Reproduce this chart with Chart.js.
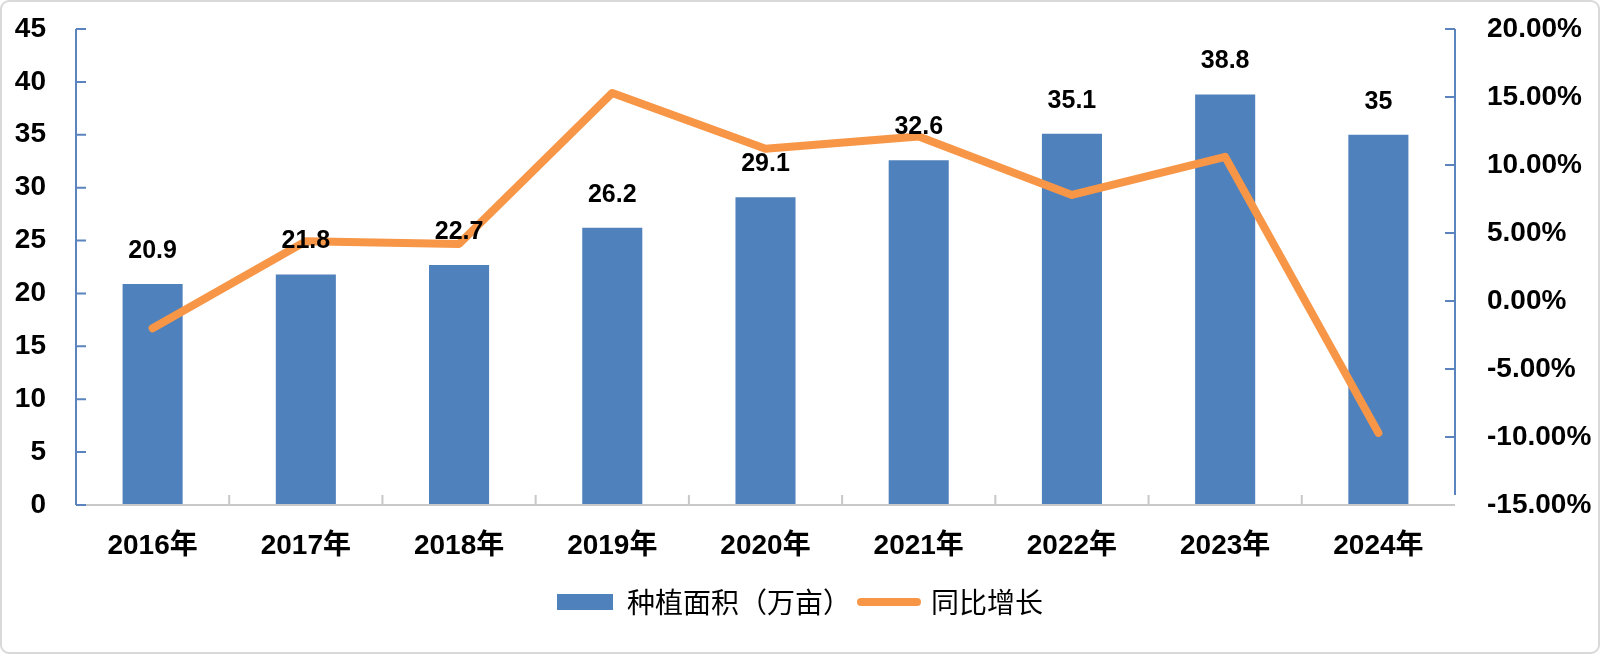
<!DOCTYPE html>
<html>
<head>
<meta charset="utf-8">
<script src="https://cdn.jsdelivr.net/npm/chart.js@4.4.1/dist/chart.umd.min.js"></script>
<style>
  html, body { margin: 0; padding: 0; background: #fff; }
  canvas { display: block; }
</style>
</head>
<body>
<canvas id="chart" width="1600" height="654"></canvas>
<script>
// dados
const years = ['2016年', '2017年', '2018年', '2019年', '2020年', '2021年', '2022年', '2023年', '2024年'];
const area = [20.9, 21.8, 22.7, 26.2, 29.1, 32.6, 35.1, 38.8, 35];
const growth = [-2.0, 4.4, 4.2, 15.3, 11.2, 12.1, 7.8, 10.6, -9.7];

const BAR_COLOR = '#4f81bd';
const LINE_COLOR = '#f79646';
const NUM_FONT = '"Liberation Sans", "Noto Sans CJK SC", sans-serif';

// fundo branco e moldura cinza
const framePlugin = {
  id: 'frame',
  beforeDraw(chart) {
    const c = chart.ctx;
    c.save();
    c.fillStyle = '#fff';
    c.fillRect(0, 0, chart.width, chart.height);
    c.strokeStyle = '#d9d9d9';
    c.lineWidth = 2;
    c.beginPath();
    c.roundRect(1, 1, chart.width - 2, chart.height - 2, 8);
    c.stroke();
    c.restore();
  }
};

// eixos com marcas para dentro, como no Excel
const axesPlugin = {
  id: 'axesLines',
  afterDatasetsDraw(chart) {
    const c = chart.ctx;
    const a = chart.chartArea;
    const yL = chart.scales.y;
    const yR = chart.scales.y1;
    const x = chart.scales.x;
    c.save();

    // eixo x
    c.strokeStyle = '#c8c8c8';
    c.lineWidth = 2;
    c.beginPath();
    c.moveTo(a.left, a.bottom);
    c.lineTo(a.right, a.bottom);
    const step = (a.right - a.left) / years.length;
    for (let i = 1; i < years.length; i++) {
      const px = x.getPixelForValue(i) - step / 2;
      c.moveTo(px, a.bottom);
      c.lineTo(px, a.bottom - 10);
    }
    c.stroke();

    // eixos y
    c.strokeStyle = '#5b84bf';
    c.lineWidth = 2;
    c.beginPath();
    c.moveTo(a.left, a.top);
    c.lineTo(a.left, a.bottom);
    yL.ticks.forEach(t => {
      const py = yL.getPixelForValue(t.value);
      c.moveTo(a.left, py);
      c.lineTo(a.left + 10, py);
    });
    c.moveTo(a.right, a.top);
    c.lineTo(a.right, a.bottom - 10);
    yR.ticks.forEach(t => {
      const py = yR.getPixelForValue(t.value);
      if (py < a.bottom - 5) {
        c.moveTo(a.right, py);
        c.lineTo(a.right - 10, py);
      }
    });
    c.stroke();
    c.restore();
  }
};

// rótulos de valor acima das barras
const barLabelsPlugin = {
  id: 'barLabels',
  afterDatasetsDraw(chart) {
    const c = chart.ctx;
    const meta = chart.getDatasetMeta(0);
    c.save();
    c.font = 'bold 25px ' + NUM_FONT;
    c.fillStyle = '#000';
    c.textAlign = 'center';
    c.textBaseline = 'middle';
    meta.data.forEach((bar, i) => {
      c.fillText(String(area[i]), bar.x, bar.y - 33);
    });
    c.restore();
  }
};

const ctx = document.getElementById('chart').getContext('2d');
const chart = new Chart(ctx, {
  data: {
    labels: years,
    datasets: [{
      type: 'bar',
      label: '种植面积（万亩）',
      data: area,
      backgroundColor: BAR_COLOR,
      barPercentage: 0.392,
      categoryPercentage: 1,
      yAxisID: 'y',
      order: 1
    }, {
      type: 'line',
      label: '同比增长',
      data: growth,
      borderColor: LINE_COLOR,
      borderWidth: 8,
      pointRadius: 0,
      tension: 0,
      borderJoinStyle: 'round',
      borderCapStyle: 'round',
      yAxisID: 'y1',
      order: 0
    }]
  },
  options: {
    responsive: false,
    devicePixelRatio: 1,
    animation: false,
    layout: { padding: { top: 29, bottom: 28, left: 0, right: 0 } },
    plugins: {
      tooltip: { enabled: false },
      legend: {
        position: 'bottom',
        labels: {
          usePointStyle: true,
          pointStyleWidth: 56,
          boxHeight: 16,
          padding: 10,
          color: '#000',
          font: { family: '"Noto Sans CJK SC", sans-serif', size: 28 },
          generateLabels() {
            return [{
              text: '种植面积（万亩）',
              fillStyle: BAR_COLOR,
              strokeStyle: BAR_COLOR,
              lineWidth: 0,
              pointStyle: 'rect',
              datasetIndex: 0
            }, {
              text: '同比增长',
              fillStyle: LINE_COLOR,
              strokeStyle: LINE_COLOR,
              lineWidth: 8,
              lineCap: 'round',
              pointStyle: 'line',
              datasetIndex: 1
            }];
          }
        }
      }
    },
    scales: {
      x: {
        grid: { display: false, drawTicks: false },
        border: { display: false },
        ticks: {
          color: '#000',
          padding: 24,
          font: { family: NUM_FONT, size: 28, weight: 'bold' }
        },
        afterFit(scale) { scale.height = 73; }
      },
      y: {
        position: 'left',
        min: 0,
        max: 45,
        grid: { display: false, drawTicks: false },
        border: { display: false },
        ticks: {
          stepSize: 5,
          color: '#000',
          padding: 30,
          font: { family: NUM_FONT, size: 28, weight: 'bold' }
        },
        afterFit(scale) {
          scale.width = 76;
          scale.paddingTop = 0;
          scale.paddingBottom = 0;
        }
      },
      y1: {
        position: 'right',
        min: -15,
        max: 20,
        grid: { display: false, drawTicks: false },
        border: { display: false },
        ticks: {
          stepSize: 5,
          color: '#000',
          padding: 32,
          font: { family: NUM_FONT, size: 28, weight: 'bold' },
          callback: v => v.toFixed(2) + '%'
        },
        afterFit(scale) {
          scale.width = 145;
          scale.paddingTop = 0;
          scale.paddingBottom = 0;
        }
      }
    }
  },
  plugins: [framePlugin, axesPlugin, barLabelsPlugin]
});
</script>
</body>
</html>
